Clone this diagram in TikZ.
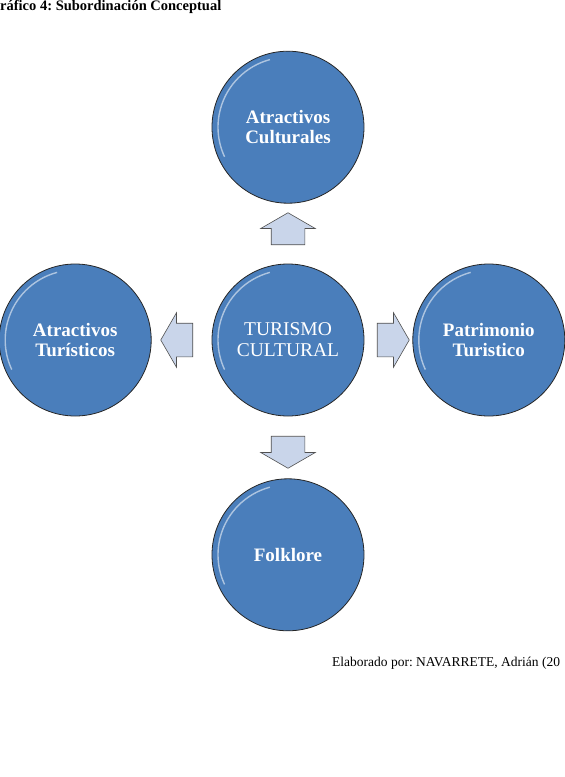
\documentclass[tikz,border=0pt]{standalone}
\usepackage{fontspec}
\setmainfont{Liberation Serif}
\usetikzlibrary{positioning,calc,shapes.arrows}
\usepackage{xcolor}
\definecolor{ballblue}{HTML}{4A7EBB}
\definecolor{rimdark}{HTML}{262626}
\definecolor{arrowfill}{HTML}{C9D5EA}
\definecolor{arrowline}{HTML}{505050}
\frenchspacing

\begin{document}
\begin{tikzpicture}[
  x=1pt, y=1pt,
  node distance=60pt and 60pt,
  ball/.style={circle, draw=rimdark, line width=0.8pt, fill=ballblue, minimum size=152pt, inner sep=0pt, text width=140pt, align=center, text=white, font=\fontsize{19}{20.5}\selectfont\bfseries,
    path picture={\draw[white, opacity=0.55, line width=1.4pt] (path picture bounding box.center) ++(105:70pt) arc(105:205:70pt);}},
  hub/.style={ball, font=\fontsize{19.5}{21}\selectfont},
  blockarr/.style={single arrow, draw=arrowline, fill=arrowfill, line width=0.6pt, inner xsep=0pt, inner ysep=16.5pt, minimum height=32pt, single arrow head extend=10.5pt, single arrow tip angle=120},
  label/.style={inner sep=0pt, anchor=base west}
]
\useasboundingbox (0,0) rectangle (565,-777);

\node[label, font=\fontsize{14.5}{16}\selectfont\bfseries] (titulo) at (0,-10) {ráfico 4: Subordinación Conceptual};

\node[hub] (turismo) at (288,-340) {TURISMO\\CULTURAL};
\node[ball, above=of turismo] (cultur) {Atractivos\\Culturales};
\node[ball, left=of turismo] (atract) {Atractivos\\Turísticos};
\node[ball, right=48pt of turismo] (patrim) {Patrimonio\\Turistico};
\node[ball, below=62pt of turismo] (folk) {Folklore};

\node[blockarr, rotate=90] (arrup) at ($(turismo.north)!0.5!(cultur.south)$) {};
\node[blockarr, rotate=180] (arrleft) at ($(turismo.west)!0.5!(atract.east)$) {};
\node[blockarr] (arrright) at ($(turismo.east)!0.5!(patrim.west)$) {};
\node[blockarr, rotate=270] (arrdown) at ($(turismo.south)!0.5!(folk.north)$) {};

\node[label, font=\fontsize{13.5}{15}\selectfont] (autor) at (332,-666) {Elaborado por: NAVARRETE, Adrián (20};
\end{tikzpicture}
\end{document}
